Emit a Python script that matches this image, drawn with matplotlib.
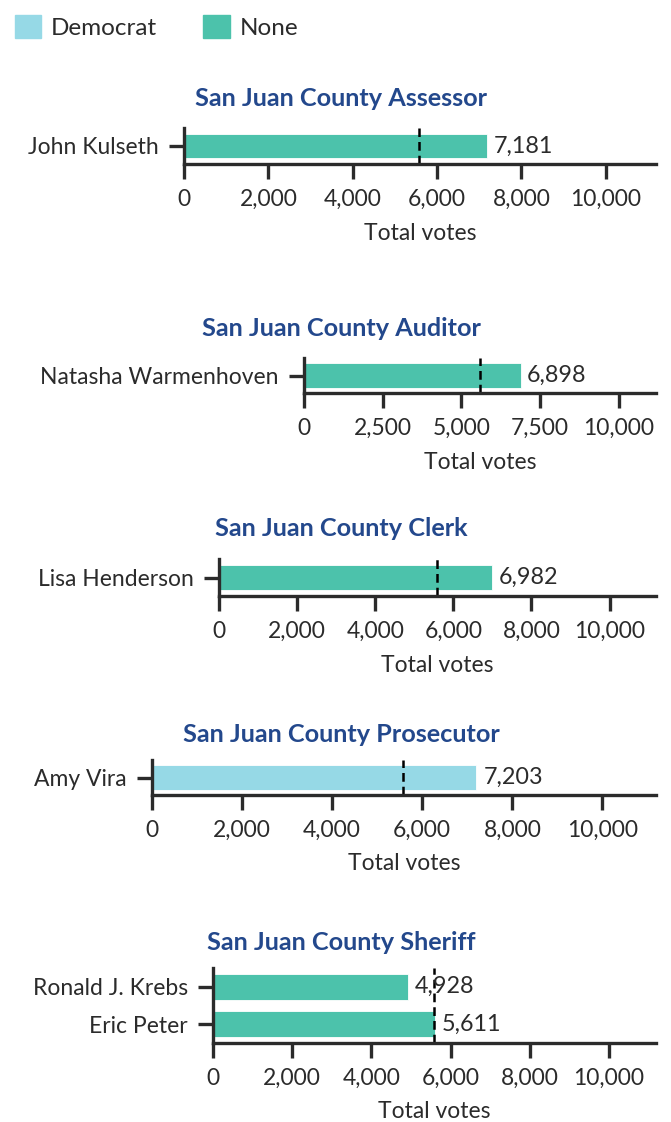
import matplotlib.pyplot as plt
from matplotlib.patches import Patch

plt.rcParams['font.family'] = ['Lato', 'DejaVu Sans']

# Races, candidates, votes and party per candidate
races = ['San Juan County Assessor', 'San Juan County Auditor', 'San Juan County Clerk',
         'San Juan County Prosecutor', 'San Juan County Sheriff']
candidates = [['John Kulseth'], ['Natasha Warmenhoven'], ['Lisa Henderson'],
              ['Amy Vira'], ['Ronald J. Krebs', 'Eric Peter']]
votes = [[7181], [6898], [6982], [7203], [4928, 5611]]
parties = [['None'], ['None'], ['None'], ['Democrat'], ['None', 'None']]
tick_steps = [2000, 2500, 2000, 2000, 2000]

# Majority line and x-range shared by all races
majority = 5580
x_max = 11190

party_colors = {'Democrat': '#96d9e6', 'None': '#4cc2ab'}
text_color = '#2b2b2b'
title_color = '#23488c'

W, H = 671, 1122
fig = plt.figure(figsize=(W / 100, H / 100), dpi=100)

# axes boxes in pixels: left, top, right, bottom
boxes = [(184, 128, 656, 164), (304, 358, 656, 393), (219, 559, 656, 596),
         (152, 760, 656, 795), (213, 968, 656, 1043)]
title_y = [98, 328, 529, 734, 942]


def px_axes(box):
    l, t, r, b = box
    return fig.add_axes([l / W, 1 - b / H, (r - l) / W, (b - t) / H])


for i, race in enumerate(races):
    ax = px_axes(boxes[i])
    n = len(candidates[i])
    ypos = list(range(n))
    colors = [party_colors[p] for p in parties[i]]
    ax.barh(ypos, votes[i], height=0.69, color=colors, edgecolor='white', linewidth=0.6)
    for y, v in zip(ypos, votes[i]):
        ax.text(v + 170, y, f'{v:,}', va='center', ha='left', fontsize=16.8, color=text_color)
    ax.axvline(majority, color='black', linestyle=(0, (3.5, 2)), linewidth=1.8)
    ax.set_xlim(0, x_max)
    ax.set_ylim(n - 0.5, -0.5)
    ax.set_yticks(ypos)
    ax.set_yticklabels(candidates[i])
    ax.set_xticks(list(range(0, 10001, tick_steps[i])))
    ax.xaxis.set_major_formatter(plt.FuncFormatter(lambda x, p: f'{int(x):,}'))
    ax.set_xlabel('Total votes', fontsize=16.5, color=text_color, labelpad=9)
    ax.tick_params(length=11, width=2.4, color=text_color, labelsize=16.5,
                   labelcolor=text_color, pad=7)
    for s in ['top', 'right']:
        ax.spines[s].set_visible(False)
    for s in ['left', 'bottom']:
        ax.spines[s].set_linewidth(2.4)
        ax.spines[s].set_color(text_color)
    fig.text(341 / W, 1 - title_y[i] / H, race, ha='center', va='center',
             fontsize=18.2, fontweight='bold', color=title_color)

handles = [Patch(color=party_colors['Democrat'], label='Democrat'),
           Patch(color=party_colors['None'], label='None')]
fig.legend(handles=handles, loc='upper left', bbox_to_anchor=(0.0, 1.0), ncol=2,
           frameon=False, fontsize=17.5, handlelength=1.1, handleheight=1.1,
           columnspacing=1.9, handletextpad=0.4, borderaxespad=0.2, labelcolor=text_color)

fig.savefig('out.png', dpi=100)
